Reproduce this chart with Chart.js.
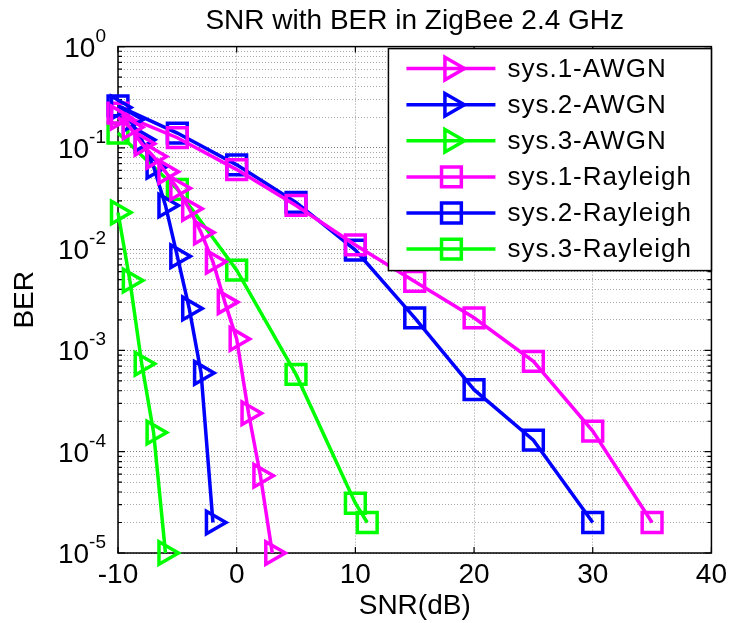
<!DOCTYPE html>
<html>
<head>
<meta charset="utf-8">
<script src="https://cdn.jsdelivr.net/npm/chart.js@4"></script>
<style>
  body { margin: 0; background: #fff; }
</style>
</head>
<body>
<canvas id="chart" width="732" height="623"></canvas>
<script>
// SNR (dB) and BER
const snrAwgn1 = [-10, -9, -8, -7, -6, -5, -4, -3, -2, -1, 0, 1, 2, 3];
const berAwgn1 = [0.20, 0.16, 0.11, 0.082, 0.058, 0.040, 0.025, 0.0146, 0.0075, 0.003, 0.0013, 2.4e-4, 5.8e-5, 1e-5];

const snrAwgn2 = [-10, -9, -8, -7, -6, -5, -4, -3, -2];
const berAwgn2 = [0.25, 0.19, 0.12, 0.065, 0.027, 0.0085, 0.0026, 6e-4, 2e-5];

const snrAwgn3 = [-10, -9, -8, -7, -6];
const berAwgn3 = [0.023, 0.0049, 7.4e-4, 1.55e-4, 1e-5];

const snrRay1 = [-10, -5, 0, 5, 10, 15, 20, 25, 30, 35];
const berRay1 = [0.22, 0.126, 0.061, 0.027, 0.011, 0.0048, 0.0021, 7.8e-4, 1.6e-4, 2e-5];

const snrRay2 = [-10, -5, 0, 5, 10, 15, 20, 25, 30];
const berRay2 = [0.26, 0.14, 0.068, 0.029, 0.0098, 0.0021, 4.1e-4, 1.3e-4, 2e-5];

const snrRay3 = [-10, -5, 0, 5, 10, 11];
const berRay3 = [0.14, 0.039, 0.0062, 5.8e-4, 3.1e-5, 2e-5];

const seriesLabels = ['sys.1-AWGN', 'sys.2-AWGN', 'sys.3-AWGN', 'sys.1-Rayleigh', 'sys.2-Rayleigh', 'sys.3-Rayleigh'];

// axis ticks
const xTicks = [-10, 0, 10, 20, 30, 40];
const yDecades = [1e-5, 1e-4, 1e-3, 1e-2, 1e-1, 1];
const yMinorSteps = [2, 3, 4, 5, 6, 7, 8, 9];

const MAGENTA = '#ff00ff';
const BLUE = '#0000ff';
const GREEN = '#00ff00';
const FONT = '"Liberation Sans", Arial, sans-serif';

const toPoints = (xs, ys) => xs.map((x, i) => ({ x: x, y: ys[i] }));

const isDecade = v => Math.abs(Math.log10(v) - Math.round(Math.log10(v))) < 1e-9;

// all y ticks: decades plus 2..9 in between
const yTickValues = [];
yDecades.forEach(d => {
    yTickValues.push(d);
    if (d < 1) yMinorSteps.forEach(m => yTickValues.push(d * m));
});

const makeSet = (label, xs, ys, color, style) => ({
    label: label,
    data: toPoints(xs, ys),
    borderColor: color,
    backgroundColor: 'rgba(0,0,0,0)',
    borderWidth: 3.5,
    pointStyle: style,
    pointRotation: style === 'triangle' ? 90 : 0,
    pointRadius: style === 'triangle' ? 13 : 14,
    pointBorderWidth: 3.5,
    pointBackgroundColor: 'rgba(0,0,0,0)',
    pointBorderColor: color,
    clip: false,
    tension: 0
});

// box around the axes with small inward ticks, plus 10^n labels
const framePlugin = {
    id: 'frame',
    beforeDatasetsDraw(chart) {
        const { ctx, chartArea: a, scales } = chart;
        ctx.save();
        ctx.strokeStyle = '#000';
        ctx.lineWidth = 1.5;
        ctx.strokeRect(a.left, a.top, a.right - a.left, a.bottom - a.top);
        ctx.lineWidth = 1.2;
        ctx.beginPath();
        scales.y.ticks.forEach(t => {
            const py = scales.y.getPixelForValue(t.value);
            const len = isDecade(t.value) ? 7 : 4;
            ctx.moveTo(a.left, py); ctx.lineTo(a.left + len, py);
            ctx.moveTo(a.right, py); ctx.lineTo(a.right - len, py);
        });
        scales.x.ticks.forEach(t => {
            const px = scales.x.getPixelForValue(t.value);
            ctx.moveTo(px, a.bottom); ctx.lineTo(px, a.bottom - 6);
            ctx.moveTo(px, a.top); ctx.lineTo(px, a.top + 6);
        });
        ctx.stroke();

        // y tick labels as 10 with a raised exponent
        ctx.fillStyle = '#000';
        ctx.textAlign = 'right';
        ctx.textBaseline = 'alphabetic';
        const edge = a.left - 12;
        scales.y.ticks.forEach(t => {
            if (!isDecade(t.value)) return;
            const py = scales.y.getPixelForValue(t.value);
            const exp = String(Math.round(Math.log10(t.value)));
            ctx.font = '19px ' + FONT;
            const w = ctx.measureText(exp).width;
            ctx.fillText(exp, edge, py - 5);
            ctx.font = '28px ' + FONT;
            ctx.fillText('10', edge - w, py + 10);
        });
        ctx.restore();
    }
};

// legend box in the upper right corner, drawn over the lines
const legendPlugin = {
    id: 'boxLegend',
    afterDatasetsDraw(chart) {
        const { ctx, chartArea: a } = chart;
        const sets = chart.data.datasets;
        const right = a.right, top = a.top + 2;
        const left = right - 323, bottom = top + 222;
        ctx.save();
        ctx.fillStyle = '#fff';
        ctx.fillRect(left, top, right - left, bottom - top);
        ctx.strokeStyle = '#000';
        ctx.lineWidth = 1.5;
        ctx.strokeRect(left, top, right - left, bottom - top);
        sets.forEach((ds, i) => {
            const y = top + 20 + i * 36.1;
            const mx = left + 63;
            ctx.strokeStyle = ds.borderColor;
            ctx.lineWidth = 3.5;
            ctx.beginPath();
            ctx.moveTo(left + 18, y);
            ctx.lineTo(left + 107, y);
            ctx.stroke();
            ctx.beginPath();
            if (ds.pointStyle === 'triangle') {
                const r = ds.pointRadius;
                ctx.moveTo(mx + r, y);
                ctx.lineTo(mx - r / 2, y - r * Math.sqrt(3) / 2);
                ctx.lineTo(mx - r / 2, y + r * Math.sqrt(3) / 2);
                ctx.closePath();
            } else {
                const s = ds.pointRadius * Math.SQRT1_2;
                ctx.rect(mx - s, y - s, 2 * s, 2 * s);
            }
            ctx.stroke();
            ctx.fillStyle = '#000';
            ctx.font = '26px ' + FONT;
            ctx.letterSpacing = '1px';
            ctx.textBaseline = 'middle';
            ctx.textAlign = 'left';
            ctx.fillText(ds.label, left + 119, y + 1);
        });
        ctx.restore();
    }
};

new Chart(document.getElementById('chart'), {
    type: 'line',
    data: {
        datasets: [
            makeSet(seriesLabels[0], snrAwgn1, berAwgn1, MAGENTA, 'triangle'),
            makeSet(seriesLabels[1], snrAwgn2, berAwgn2, BLUE, 'triangle'),
            makeSet(seriesLabels[2], snrAwgn3, berAwgn3, GREEN, 'triangle'),
            makeSet(seriesLabels[3], snrRay1, berRay1, MAGENTA, 'rect'),
            makeSet(seriesLabels[4], snrRay2, berRay2, BLUE, 'rect'),
            makeSet(seriesLabels[5], snrRay3, berRay3, GREEN, 'rect')
        ]
    },
    options: {
        responsive: false,
        animation: false,
        devicePixelRatio: 1,
        layout: { padding: { left: 0, right: 17, top: 0, bottom: 0 } },
        plugins: {
            legend: { display: false },
            tooltip: { enabled: false },
            title: {
                display: true,
                fullSize: false,
                text: 'SNR with BER in ZigBee 2.4 GHz',
                color: '#000',
                font: { family: FONT, size: 28, weight: 'normal' },
                padding: { top: 4, bottom: 9 }
            }
        },
        scales: {
            x: {
                type: 'linear',
                min: -10,
                max: 40,
                afterBuildTicks: scale => { scale.ticks = xTicks.map(v => ({ value: v })); },
                afterFit: scale => { scale.height = 70; },
                ticks: {
                    color: '#000',
                    font: { family: FONT, size: 28 },
                    padding: 5
                },
                grid: {
                    color: '#9a9a9a',
                    lineWidth: 1,
                    drawTicks: false
                },
                border: { display: false, dash: [1, 2] },
                title: {
                    display: true,
                    text: 'SNR(dB)',
                    color: '#000',
                    font: { family: FONT, size: 28 },
                    padding: { top: 0, bottom: 0 }
                }
            },
            y: {
                type: 'logarithmic',
                min: 1e-5,
                max: 1,
                afterBuildTicks: scale => { scale.ticks = yTickValues.map(v => ({ value: v })); },
                afterFit: scale => { scale.width = 118; },
                ticks: { display: false },
                grid: {
                    color: c => (c.tick && isDecade(c.tick.value)) ? '#7a7a7a' : '#a8a8a8',
                    lineWidth: 1,
                    drawTicks: false
                },
                border: { display: false, dash: [1, 2] },
                title: {
                    display: true,
                    text: 'BER',
                    color: '#000',
                    font: { family: FONT, size: 28 },
                    padding: { top: 8, bottom: 0 }
                }
            }
        }
    },
    plugins: [framePlugin, legendPlugin]
});
</script>
</body>
</html>
